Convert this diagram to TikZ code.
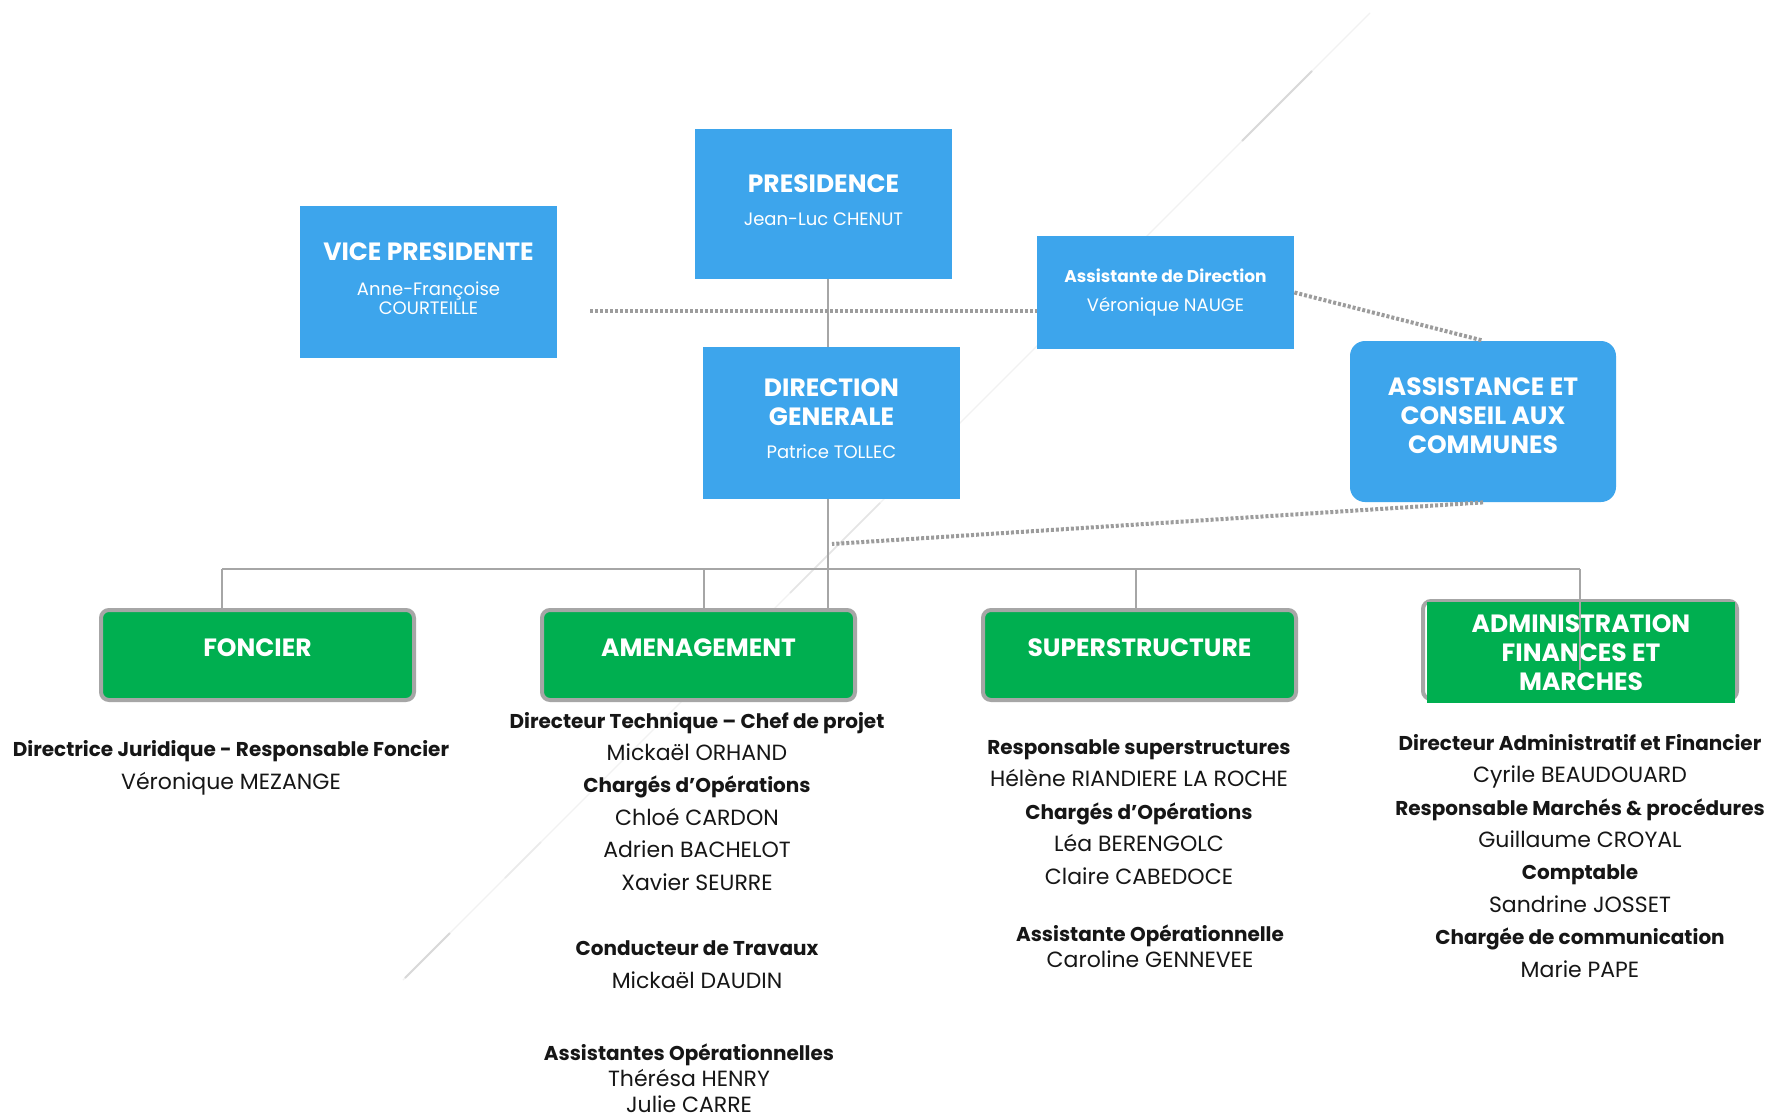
\documentclass[tikz,border=0pt]{standalone}
\usepackage{fontspec}
\setmainfont{Poppins}
\usetikzlibrary{positioning, calc}
\definecolor{chartblue}{HTML}{3DA5EC}
\definecolor{chartgreen}{HTML}{00AF50}
\definecolor{linegray}{HTML}{A6A6A6}
\definecolor{dotgray}{HTML}{9C9C9C}
\definecolor{inkblack}{HTML}{161616}
\newcommand{\unitfont}{\fontsize{12.5}{14.5}\selectfont\bfseries}
\newcommand{\namefont}{\fontsize{9}{9.8}\selectfont\mdseries}
\newcommand{\staffsize}{\fontsize{11}{16.2}\selectfont}
\newcommand{\role}[1]{{\fontsize{10}{16.2}\selectfont\bfseries #1}}

\begin{document}
\begin{tikzpicture}[x=0.5pt, y=-0.5pt,
    bluebox/.style={fill=chartblue, text=white, inner sep=0pt, align=center,
                    minimum width=128.5pt, font=\unitfont},
    greenbox/.style={fill=chartgreen, draw=linegray, line width=2pt, rounded corners=4pt,
                     text=white, inner sep=0pt, align=center, text depth=7pt,
                     minimum width=156.5pt, minimum height=45pt, font=\unitfont},
    orgline/.style={draw=linegray, line width=1pt},
    dotline/.style={draw=dotgray, line width=2pt, dash pattern=on 1.5pt off 1pt},
    staff/.style={anchor=base, align=center, text=inkblack, inner sep=0pt, font=\staffsize}]

  \fill[white] (0,0) rectangle (1769,1119);
  \useasboundingbox (0,0) rectangle (1769,1119);

  % faint diagonal streak behind the chart
  \draw[black!5, line width=0.6pt] (1370,13) -- (403,980);
  \draw[black!15, line width=0.9pt] (1312,71) -- (1242,141);
  \draw[black!10, line width=0.8pt] (880,503) -- (790,593);
  \draw[black!8, line width=0.8pt] (541,842) -- (505,878);
  \draw[black!15, line width=1pt] (450,933) -- (405,978);

  % top level
  \node[bluebox, minimum height=75pt, text depth=4pt] (pres) at (823.5,204)
    {PRESIDENCE\\[2pt]\namefont Jean-Luc CHENUT};
  \node[bluebox, minimum height=76pt, text depth=3pt] (vp) at (428.5,282)
    {VICE PRESIDENTE\\[3pt]\namefont Anne-Françoise\\[-5pt]\namefont COURTEILLE};
  \node[bluebox, minimum height=56.5pt] (asst) at (1165.5,292.5)
    {\fontsize{8.5}{10}\selectfont Assistante de Direction\\[0pt]\namefont Véronique NAUGE};
  \node[bluebox, minimum height=76pt, text depth=4pt] (dg) at (831.5,423)
    {DIRECTION\\GENERALE\\[2pt]\namefont Patrice TOLLEC};
  \node[bluebox, rounded corners=7.5pt, minimum width=133pt, minimum height=80.5pt,
        text depth=6pt] (acc)
    at (1483,421.5) {ASSISTANCE ET\\CONSEIL AUX\\COMMUNES};

  % services
  \node[greenbox] (foncier) at (257.5,655) {FONCIER};
  \node[greenbox] (amen) at (698.5,655) {AMENAGEMENT};
  \node[greenbox] (superstr) at (1139.5,655) {SUPERSTRUCTURE};
  \node[greenbox, fill=none, minimum width=157pt, minimum height=49pt] (adminframe) at (1580,650) {};
  \node[fill=chartgreen, text=white, inner sep=0pt, align=center, font=\unitfont,
        minimum width=154pt, minimum height=50.5pt] (admin) at (1581,652.5)
    {ADMINISTRATION\\FINANCES ET\\MARCHES};

  % hierarchy
  \coordinate (spine) at (828,569);
  \coordinate (busL) at (222,569);
  \coordinate (busR) at (1580,569);
  \coordinate (adminEnd) at (1580,670);
  \draw[orgline] (pres.south -| spine) -- (dg.north -| spine);
  \draw[orgline] (dg.south -| spine) -- (amen.north -| spine);
  \draw[orgline] (busL) -- (busR);
  \draw[orgline] (busL) -- (busL |- foncier.north);
  \draw[orgline] (704,569) -- (704,0 |- amen.north);
  \draw[orgline] (1136,569) -- (1136,0 |- superstr.north);
  \draw[orgline] (busR) -- (adminEnd);

  % dotted links
  \coordinate (vpTap) at (590,311);
  \coordinate (dgTap) at (832,544);
  \draw[dotline] (vpTap) -- (asst.west |- vpTap);
  \draw[dotline] (asst.east) -- (acc.north);
  \draw[dotline] (acc.south) -- (dgTap);

  % staff (base = last line)
  \node[staff] (foncierStaff) at (231,789)
    {\role{Directrice Juridique - Responsable Foncier}\\Véronique MEZANGE};
  \node[staff] (amenLead) at (697,890)
    {\role{Directeur Technique – Chef de projet}\\Mickaël ORHAND\\
     \role{Chargés d’Opérations}\\Chloé CARDON\\Adrien BACHELOT\\Xavier SEURRE};
  \node[staff] (amenWorks) at (697,988)
    {\role{Conducteur de Travaux}\\Mickaël DAUDIN};
  \node[staff, font=\fontsize{11}{13}\selectfont] (amenAssist) at (689,1112)
    {\role{Assistantes Opérationnelles}\\Thérésa HENRY\\Julie CARRE};
  \node[staff] (superLead) at (1139,884)
    {\role{Responsable superstructures}\\Hélène RIANDIERE LA ROCHE\\
     \role{Chargés d’Opérations}\\Léa BERENGOLC\\Claire CABEDOCE};
  \node[staff, font=\fontsize{11}{13}\selectfont] (superAssist) at (1150,967)
    {\role{Assistante Opérationnelle}\\Caroline GENNEVEE};
  \node[staff] (adminStaff) at (1580,977)
    {\role{Directeur Administratif et Financier}\\Cyrile BEAUDOUARD\\
     \role{Responsable Marchés \& procédures}\\Guillaume CROYAL\\
     \role{Comptable}\\Sandrine JOSSET\\
     \role{Chargée de communication}\\Marie PAPE};
\end{tikzpicture}
\end{document}
